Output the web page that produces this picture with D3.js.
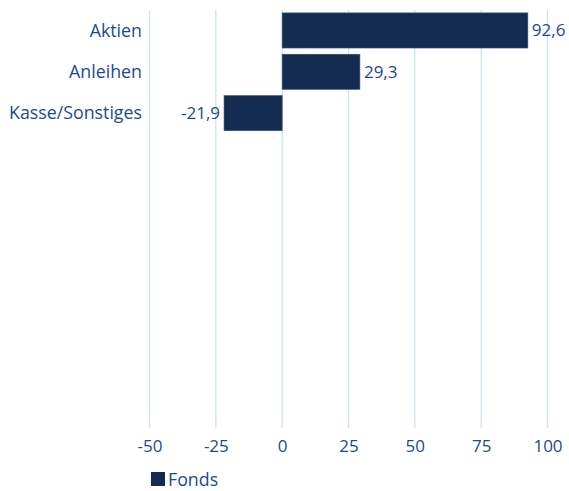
<!DOCTYPE html>
<html><head><meta charset="utf-8">
<script src="https://cdn.jsdelivr.net/npm/d3@7"></script>
<style>body{margin:0;background:#fff}text{font-family:"Open Sans",Lato,sans-serif}</style>
</head><body><svg id="c" width="569" height="491"></svg>
<script>
const categories = ["Aktien", "Anleihen", "Kasse/Sonstiges"];
const values = [92.6, 29.3, -21.9];
const ticks = [-50, -25, 0, 25, 50, 75, 100];
const seriesName = "Fonds";

const svg = d3.select("#c");
const textColor = "#1b4993", barColor = "#142b52", gridColor = "#cde3ec";
const fs = "17px";
const x = d3.scaleLinear().domain([-50, 100]).range([149.5, 547.5]);
const y = d3.scaleBand().domain(categories).range([10, 10 + 3 * 41.2]).paddingInner(0.15).paddingOuter(0.07);
const plotTop = 10, plotBottom = 428;

svg.append("g").selectAll("line").data(ticks).join("line")
  .attr("x1", d => x(d)).attr("x2", d => x(d)).attr("y1", plotTop).attr("y2", plotBottom)
  .attr("stroke", gridColor).attr("stroke-width", 1.3);

const xa = svg.append("g").attr("transform", `translate(0,${plotBottom})`)
  .call(d3.axisBottom(x).tickValues(ticks).tickSize(0).tickPadding(12).tickFormat(d => String(d)));
xa.select(".domain").remove();
xa.selectAll("text").attr("fill", textColor).style("font-size", fs).style("font-family", '"Open Sans",Lato,sans-serif');

svg.append("g").selectAll("rect").data(values).join("rect")
  .attr("x", d => x(Math.min(0, d))).attr("width", d => Math.abs(x(d) - x(0)))
  .attr("y", (d, i) => y(categories[i])).attr("height", y.bandwidth())
  .attr("fill", barColor).attr("stroke", "#3a5478").attr("stroke-width", 0.6);

svg.append("g").selectAll("text").data(categories).join("text")
  .attr("x", 142).attr("y", d => y(d) + y.bandwidth() / 2).attr("dy", "0.35em")
  .attr("text-anchor", "end").attr("fill", textColor).style("font-size", "17.8px").text(d => d);

const fmt = v => String(v).replace(".", ",");
svg.append("g").selectAll("text").data(values).join("text")
  .attr("x", d => d >= 0 ? x(d) + 4 : x(d) - 4)
  .attr("y", (d, i) => y(categories[i]) + y.bandwidth() / 2).attr("dy", "0.35em")
  .attr("text-anchor", d => d >= 0 ? "start" : "end")
  .attr("fill", textColor).style("font-size", fs).text(fmt);

svg.append("rect").attr("x", 151).attr("y", 472).attr("width", 14).attr("height", 14).attr("fill", barColor);
svg.append("text").attr("x", 168).attr("y", 486).attr("fill", textColor).style("font-size", "17.8px").text(seriesName);
</script></body></html>
